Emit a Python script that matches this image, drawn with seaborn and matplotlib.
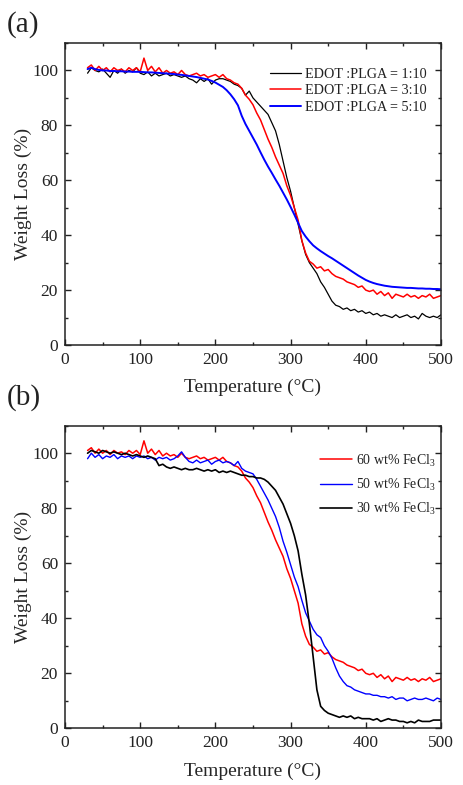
import matplotlib
matplotlib.use("Agg")
import matplotlib.pyplot as plt
import pandas as pd
import seaborn as sns
from matplotlib.ticker import MultipleLocator

# temperature grid (deg C) shared by all curves
TEMP = [30, 35, 40, 45, 50, 55, 60, 65, 70, 75, 80, 85, 90, 95, 100,
        105, 110, 115, 120, 125, 130, 135, 140, 145, 150, 155, 160, 165, 170, 175,
        180, 185, 190, 195, 200, 205, 210, 215, 220, 225, 230, 235, 240, 245, 250,
        255, 260, 265, 270, 275, 280, 285, 290, 295, 300, 305, 310, 315, 320, 325,
        330, 335, 340, 345, 350, 355, 360, 365, 370, 375, 380, 385, 390, 395, 400,
        405, 410, 415, 420, 425, 430, 435, 440, 445, 450, 455, 460, 465, 470, 475,
        480, 485, 490, 495, 500]

# (a) EDOT:PLGA = 1:10
EDOT_1_10 = [99, 101, 100, 99.5, 100.5, 99, 97.5, 100, 99, 100.5, 99, 100, 99.5, 101, 99,
             98.5, 99.5, 98, 99, 98, 98.5, 99, 98, 98.5, 98, 97.5, 98, 97, 96.5, 95.5,
             97, 96, 97, 95, 96.5, 97, 97, 96.5, 96, 95, 94.5, 93.5, 91, 92.5, 90,
             88.5, 87, 85.5, 84, 81, 78, 73, 67, 61, 56, 50, 44, 38, 33, 30,
             28, 26, 23, 21, 18.5, 16, 14.5, 14, 13, 13.5, 12.5, 13, 12, 12.5, 11.5,
             12, 11, 11.5, 10.5, 11, 10.5, 10, 11, 10, 10.5, 11, 10, 10.5, 9.5, 11.5,
             10.5, 10, 10.5, 10, 11]

# (a) EDOT:PLGA = 3:10  /  (b) 60 wt% FeCl3
EDOT_3_10 = [101, 102, 100, 101.5, 100, 101, 99.5, 101, 100, 100.5, 99.5, 101, 100, 101, 99.5,
             104.5, 100, 101.5, 99.5, 101, 99, 100, 99, 99.5, 98.5, 100, 98.5, 98, 98.5, 99,
             98, 98.5, 97.5, 98, 98.5, 97.5, 98.5, 97, 96.5, 95.5, 95, 93.5, 91, 89.5, 87.5,
             84.5, 82, 78.5, 75, 72, 68.5, 65.5, 62.5, 58, 54.5, 50, 45.5, 38, 33.5, 30.5,
             29.5, 28, 28.5, 27, 27.5, 26, 25, 24.5, 24, 23, 22.5, 22, 21, 21.5, 20,
             19.5, 20, 18.5, 19.5, 18, 19, 17, 18.5, 18, 17.5, 18.5, 17.5, 18, 17, 18,
             17.5, 18.5, 17, 17.5, 18]

# (a) EDOT:PLGA = 5:10
EDOT_5_10 = [100.5, 101, 100.5, 100.2, 100, 100, 99.8, 99.8, 99.7, 99.7, 99.6, 99.6, 99.5, 99.5, 99.5,
             99.4, 99.3, 99.3, 99.2, 99.1, 99, 98.9, 98.8, 98.7, 98.5, 98.4, 98.2, 98, 97.8, 97.6,
             97.3, 97, 96.7, 96.2, 95.6, 94.8, 94, 92.8, 91.3, 89.5, 87.3, 83.5, 80.5, 78, 75.5,
             73, 70.2, 67.5, 65, 62.7, 60.3, 58, 55.5, 53, 50.3, 47.5, 44.5, 41.5, 39.5, 37.8,
             36.3, 35.2, 34.2, 33.3, 32.4, 31.6, 30.7, 29.8, 28.9, 28, 27.1, 26.2, 25.3, 24.5, 23.7,
             23.1, 22.6, 22.2, 21.9, 21.6, 21.4, 21.2, 21.1, 21, 20.9, 20.8, 20.8, 20.7, 20.6, 20.6,
             20.5, 20.5, 20.4, 20.4, 20.3]

# (b) 50 wt% FeCl3
FECL3_50 = [98, 100, 98.5, 99.5, 98, 99, 98.5, 99.5, 98, 99, 98.5, 99, 98, 99, 98.5,
            99, 98, 98.5, 97.5, 98.5, 98, 98.5, 97.5, 98, 99, 100.5, 98.5, 97, 96.5, 97.5,
            96.5, 97, 97.5, 96, 97, 97.5, 96.5, 97, 96.5, 95.5, 97, 94.5, 93.5, 93, 92.5,
            90.5, 88, 85.5, 83, 80, 77, 73, 68, 64, 59.5, 55, 51.5, 46.5, 42, 39,
            36, 34, 33, 30, 28, 25.5, 22, 19, 17, 15.5, 15, 14, 13.5, 13, 12.5,
            12.5, 12, 12, 11.5, 11.5, 11, 11.5, 10.5, 11, 11, 10, 10.5, 11, 10.5, 10.5,
            11, 10.5, 10, 11, 10.5]

# (b) 30 wt% FeCl3
FECL3_30 = [100, 101, 100.5, 100, 101, 100.5, 100, 100.5, 100, 99.5, 100, 99.5, 99, 99.5, 99,
            98.5, 99, 98.5, 98, 95.5, 96, 95, 94.5, 95, 94.5, 94, 94.5, 94, 94, 94.5,
            94, 93.5, 94, 93.5, 94, 93, 93.5, 93, 93.5, 93, 92.5, 92, 92, 91.5, 91.5,
            91, 91, 90.5, 89.5, 88, 86.5, 84, 81.5, 78, 74.5, 70, 64.5, 56, 48.5, 38,
            26, 14, 8, 6.5, 5.5, 5, 4.5, 4, 4.5, 4, 4.5, 3.5, 4, 3.5, 3.5,
            3.5, 3, 3.5, 2.5, 3, 3.5, 3, 3, 2.5, 2.5, 2, 2.5, 2, 3, 2.5,
            2.5, 2.5, 3, 3, 3]

LABELS_A = ["EDOT :PLGA = 1:10", "EDOT :PLGA = 3:10", "EDOT :PLGA = 5:10"]
LABELS_B = ["60 wt% FeCl$_3$", "50 wt% FeCl$_3$", "30 wt% FeCl$_3$"]

sns.set_style("ticks")
plt.rcParams["font.family"] = ["Liberation Serif", "DejaVu Serif"]
plt.rcParams["mathtext.fontset"] = "custom"
plt.rcParams["mathtext.rm"] = "Liberation Serif"
plt.rcParams["text.color"] = "#222222"

fig = plt.figure(figsize=(4.63, 7.85), dpi=100)
ax_a = fig.add_axes([0.1404, 0.5605, 0.812, 0.3847])
ax_b = fig.add_axes([0.1404, 0.0722, 0.812, 0.3855])


def style_axes(ax):
    ax.set_xlim(0, 500)
    ax.set_ylim(0, 110)
    ax.xaxis.set_major_locator(MultipleLocator(100))
    ax.xaxis.set_minor_locator(MultipleLocator(50))
    ax.yaxis.set_major_locator(MultipleLocator(20))
    ax.yaxis.set_minor_locator(MultipleLocator(10))
    ax.tick_params(which="both", direction="in", top=True, right=True,
                   width=1.0, colors="#222222", labelsize=12.5, pad=5)
    ax.tick_params(which="major", length=4)
    ax.tick_params(which="minor", length=2.5)
    for sp in ax.spines.values():
        sp.set_linewidth(1.1)
        sp.set_color("#222222")
    ax.set_xlabel("Temperature (°C)", fontsize=14, labelpad=8)
    ax.set_ylabel("Weight Loss (%)", fontsize=14, labelpad=0)


# (a)
sns.lineplot(x=TEMP, y=EDOT_1_10, color="black", lw=0.9, label=LABELS_A[0], ax=ax_a)
sns.lineplot(x=TEMP, y=EDOT_3_10, color="#ff0000", lw=1.1, label=LABELS_A[1], ax=ax_a)
sns.lineplot(x=TEMP, y=EDOT_5_10, color="#0000ff", lw=1.4, label=LABELS_A[2], ax=ax_a)
style_axes(ax_a)
ax_a.legend(loc="upper left", bbox_to_anchor=(0.545, 0.918), frameon=False,
            fontsize=10.2, handlelength=2.2, handletextpad=0.25,
            labelspacing=0.25, borderpad=0, borderaxespad=0)

# (b)
sns.lineplot(x=TEMP, y=EDOT_3_10, color="#ff0000", lw=1.1, label=LABELS_B[0], ax=ax_b)
sns.lineplot(x=TEMP, y=FECL3_50, color="#0000ff", lw=1.0, label=LABELS_B[1], ax=ax_b)
sns.lineplot(x=TEMP, y=FECL3_30, color="black", lw=1.2, label=LABELS_B[2], ax=ax_b)
style_axes(ax_b)
ax_b.legend(loc="upper left", bbox_to_anchor=(0.678, 0.912), frameon=False,
            fontsize=10, handlelength=2.3, handletextpad=0.3,
            labelspacing=0.55, borderpad=0, borderaxespad=0)

fig.text(0.015, 0.969, "(a)", fontsize=21, va="center", ha="left")
fig.text(0.015, 0.493, "(b)", fontsize=21, va="center", ha="left")

fig.savefig("out.png", dpi=100)
